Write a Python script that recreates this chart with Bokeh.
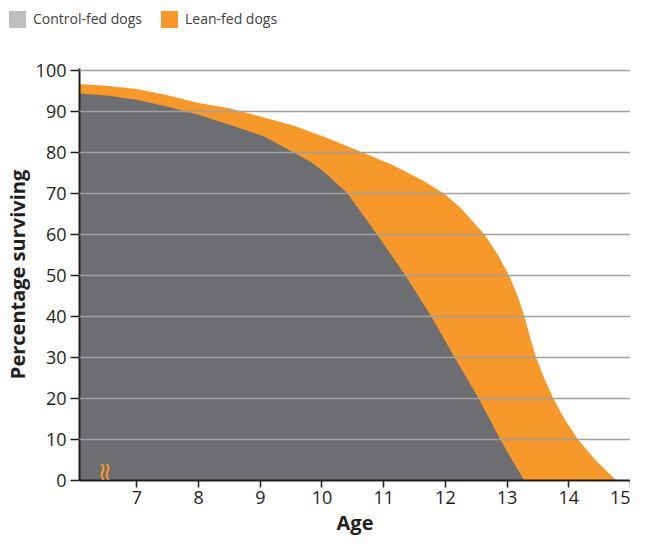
from math import pi
from bokeh.plotting import figure
from bokeh.layouts import column
from bokeh.models import Range1d, Label, FixedTicker, Div
from bokeh.embed import file_html
from bokeh.resources import INLINE

# ---- data ----
control_age = [6.0, 6.5, 7.0, 7.5, 8.0, 8.76, 9.08, 9.53, 9.83, 10.04, 10.41, 10.65,
               10.89, 11.12, 11.35, 11.77, 12.15, 12.54, 12.89, 13.08, 13.28]
control_pct = [94.4, 93.8, 92.8, 91.1, 89.1, 85.4, 83.7, 80.0, 77.5, 75.1, 70.0, 65.0,
               60.0, 55.0, 50.0, 40.0, 30.0, 20.0, 10.0, 5.0, 0.0]

lean_age = [6.0, 6.5, 7.0, 7.5, 8.0, 8.5, 8.76, 9.0, 9.56, 10.04, 10.65, 11.17, 11.65,
            11.97, 12.24, 12.63, 12.85, 13.03, 13.17, 13.28, 13.37, 13.47, 13.6, 13.75,
            13.93, 14.15, 14.43, 14.77]
lean_pct = [96.7, 96.2, 95.4, 93.9, 92.0, 90.7, 89.7, 88.7, 86.4, 83.7, 80.0, 76.7, 73.0,
            70.0, 66.5, 60.0, 55.0, 50.0, 45.0, 40.0, 35.0, 30.0, 25.0, 20.0,
            15.0, 10.0, 5.0, 0.0]

x_ticks = [7, 8, 9, 10, 11, 12, 13, 14, 15]
y_ticks = [0, 10, 20, 30, 40, 50, 60, 70, 80, 90, 100]
series_names = ["Control-fed dogs", "Lean-fed dogs"]

GRAY = "#6d6e71"
ORANGE = "#f7982a"
LEGEND_GRAY = "#bcbec0"
TEXT = "#231f20"
FONT = "Open Sans"

# ---------- legend strip ----------
swatch = ("display:inline-block;width:17px;height:17px;background:{c};"
          "margin-left:{m}px;margin-right:7px;")
legend_html = (
    "<div style=\"font-family:'Open Sans';font-size:14px;color:#414042;"
    "position:relative;top:8px;left:8px;"
    "display:flex;align-items:center;height:22px;white-space:nowrap;\">"
    + "<span style='" + swatch.format(c=LEGEND_GRAY, m=1) + "'></span>"
    + "<span>" + series_names[0] + "</span>"
    + "<span style='" + swatch.format(c=ORANGE, m=19) + "'></span>"
    + "<span>" + series_names[1] + "</span></div>"
)
legend_div = Div(text=legend_html, width=630, height=34, margin=0)

# ---------- main chart ----------
p = figure(width=630, height=504, output_backend="svg", toolbar_location=None,
           x_range=Range1d(6.07, 15), y_range=Range1d(0, 100.4),
           min_border_left=74, min_border_right=0, min_border_top=34, min_border_bottom=0)
p.outline_line_color = None
p.background_fill_color = "white"

p.varea(x=lean_age, y1=0, y2=lean_pct, fill_color=ORANGE)
p.varea(x=control_age, y1=0, y2=control_pct, fill_color=GRAY)

p.xaxis.ticker = FixedTicker(ticks=x_ticks)
p.yaxis.ticker = FixedTicker(ticks=y_ticks)
p.xaxis.minor_tick_line_color = None
p.yaxis.minor_tick_line_color = None
for ax in (p.xaxis[0], p.yaxis[0]):
    ax.axis_line_color = TEXT
    ax.axis_line_width = 2
    ax.major_tick_line_color = TEXT
    ax.major_tick_line_width = 1.5
    ax.major_tick_in = 0
    ax.major_label_text_font = FONT
    ax.major_label_text_font_size = "18px"
    ax.major_label_text_color = TEXT
    ax.axis_label_text_font = FONT
    ax.axis_label_text_font_style = "bold"
    ax.axis_label_text_font_size = "20px"
    ax.axis_label_text_color = TEXT
p.xaxis.major_tick_out = 7
p.yaxis.major_tick_out = 9
p.xaxis.major_label_standoff = 3
p.yaxis.major_label_standoff = 4
p.xaxis.axis_label = "Age"
p.yaxis.axis_label = "Percentage surviving"
p.xaxis.axis_label_standoff = 2
p.yaxis.axis_label_standoff = 2

p.xgrid.grid_line_color = None
p.ygrid.grid_line_color = "#a0a0a0"
p.ygrid.grid_line_width = 1.5
p.ygrid.level = "overlay"

# axis break mark
brk = Label(x=6.47, y=2.1, text="\u2248", angle=pi / 2, text_align="center",
            text_baseline="middle", text_color=ORANGE, text_font="DejaVu Sans",
            text_font_size="26px")
p.add_layout(brk)

layout = column(legend_div, p, spacing=0)
open("out.html", "w").write(file_html(layout, INLINE))
